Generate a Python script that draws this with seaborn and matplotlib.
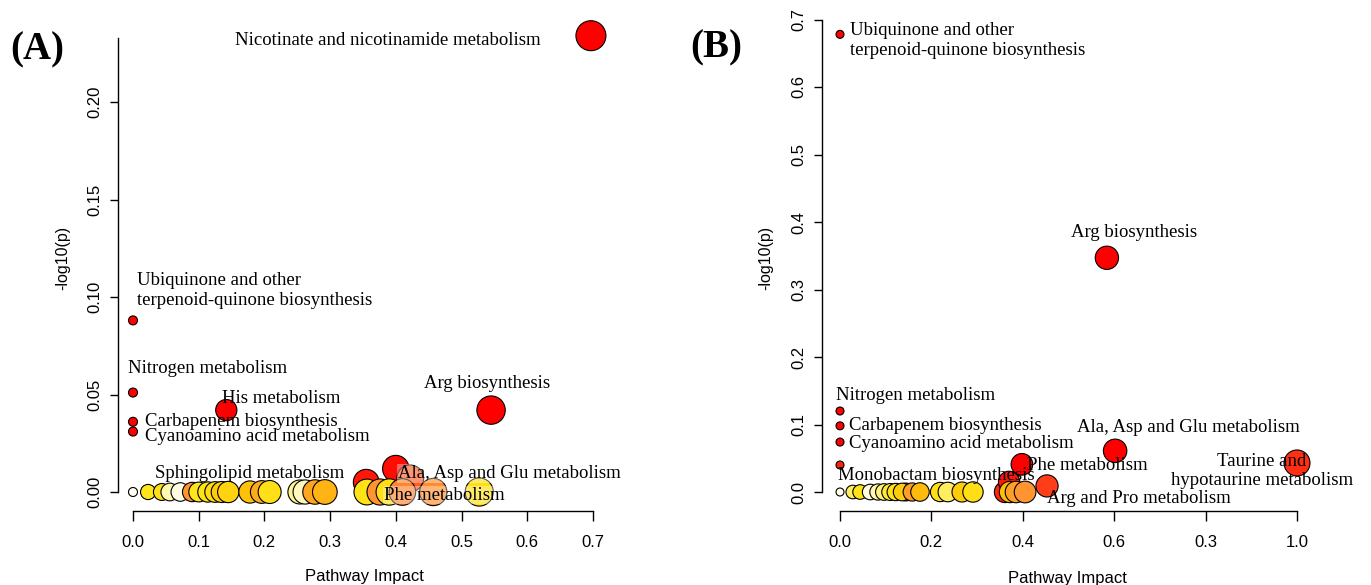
import matplotlib
matplotlib.use("Agg")
import matplotlib.pyplot as plt
from matplotlib.colors import LinearSegmentedColormap, PowerNorm
import pandas as pd
import seaborn as sns

# ---- DATA: panel (A) ----
a_impact = [0.355, 0.400, 0.422,
            0.000, 0.023, 0.044, 0.056, 0.072, 0.090, 0.100, 0.114, 0.125, 0.135,
            0.145, 0.178, 0.196, 0.208, 0.254, 0.262, 0.277, 0.292, 0.356, 0.376,
            0.390, 0.410, 0.457, 0.527,
            0.142, 0.545, 0.697, 0.000, 0.000, 0.000, 0.000]
a_logp = [0.005, 0.012, 0.007,
          0, 0, 0, 0, 0, 0, 0, 0, 0, 0,
          0, 0, 0, 0, 0, 0, 0, 0, 0, 0,
          0, 0, 0, 0,
          0.042, 0.042, 0.234, 0.088, 0.051, 0.036, 0.031]
a_heat = [0.95, 0.97, 0.80,
          0.00, 0.33, 0.36, 0.15, 0.04, 0.66, 0.33, 0.35, 0.38, 0.45,
          0.42, 0.50, 0.58, 0.36, 0.20, 0.12, 0.60, 0.55, 0.35, 0.66,
          0.37, 0.70, 0.68, 0.36,
          1.0, 1.0, 1.0, 1.0, 1.0, 1.0, 1.0]
a_names = ["", "", "Ala, Asp and Glu metabolism",
           "", "", "", "", "", "", "", "", "", "",
           "", "Sphingolipid metabolism", "", "", "", "", "", "", "", "",
           "Phe metabolism", "", "", "",
           "His metabolism", "Arg biosynthesis", "Nicotinate and nicotinamide metabolism",
           "Ubiquinone and other\nterpenoid-quinone biosynthesis", "Nitrogen metabolism",
           "Carbapenem biosynthesis", "Cyanoamino acid metabolism"]
a_xticks = [0.0, 0.1, 0.2, 0.3, 0.4, 0.5, 0.6, 0.7]
a_xticklabels = ["0.0", "0.1", "0.2", "0.3", "0.4", "0.5", "0.6", "0.7"]
a_yticks = [0.00, 0.05, 0.10, 0.15, 0.20]
a_yticklabels = ["0.00", "0.05", "0.10", "0.15", "0.20"]

# ---- DATA: panel (B) ----
b_impact = [0.144, 0.361, 0.370,
            0.000, 0.028, 0.044, 0.066, 0.083, 0.096, 0.110, 0.122, 0.136, 0.158,
            0.175, 0.219, 0.236, 0.267, 0.291, 0.372, 0.385, 0.405,
            0.000, 0.584, 0.000, 0.000, 0.000, 0.000, 0.398, 0.602, 1.000, 0.453]
b_logp = [0, 0, 0.015,
          0, 0, 0, 0, 0, 0, 0, 0, 0, 0,
          0, 0, 0, 0, 0, 0, 0, 0,
          0.678, 0.347, 0.120, 0.098, 0.074, 0.040, 0.041, 0.061, 0.043, 0.009]
b_heat = [0.90, 0.92, 0.95,
          0.02, 0.25, 0.35, 0.05, 0.15, 0.22, 0.30, 0.35, 0.45, 0.62,
          0.52, 0.36, 0.25, 0.45, 0.36, 0.50, 0.62, 0.66,
          1.0, 1.0, 1.0, 1.0, 1.0, 0.93, 1.0, 1.0, 0.90, 0.87]
b_names = ["", "", "",
           "", "", "", "", "", "", "", "", "", "",
           "", "", "", "", "", "", "", "",
           "Ubiquinone and other\nterpenoid-quinone biosynthesis", "Arg biosynthesis",
           "Nitrogen metabolism", "Carbapenem biosynthesis", "Cyanoamino acid metabolism",
           "Monobactam biosynthesis", "Phe metabolism", "Ala, Asp and Glu metabolism",
           "Taurine and\nhypotaurine metabolism", "Arg and Pro metabolism"]
b_xticks = [0.0, 0.2, 0.4, 0.6, 0.8, 1.0]
b_xticklabels = ["0.0", "0.2", "0.4", "0.6", "0.3", "1.0"]
b_yticks = [0.0, 0.1, 0.2, 0.3, 0.4, 0.5, 0.6, 0.7]
b_yticklabels = ["0.0", "0.1", "0.2", "0.3", "0.4", "0.5", "0.6", "0.7"]

# label placement (pixel offsets from the point, horizontal alignment)
a_offsets = {
    "Nicotinate and nicotinamide metabolism": (-50, -5, "right"),
    "Ubiquinone and other\nterpenoid-quinone biosynthesis": (4, 30, "left"),
    "Nitrogen metabolism": (-5, 24, "left"),
    "His metabolism": (-4, 12, "left"),
    "Carbapenem biosynthesis": (12, 0, "left"),
    "Cyanoamino acid metabolism": (12, -5, "left"),
    "Arg biosynthesis": (-67, 27, "left"),
    "Sphingolipid metabolism": (-95, 19, "left"),
    "Ala, Asp and Glu metabolism": (-12, 5, "left"),
    "Phe metabolism": (-5, -3, "left"),
}
b_offsets = {
    "Ubiquinone and other\nterpenoid-quinone biosynthesis": (10, -6, "left"),
    "Arg biosynthesis": (27, 25, "center"),
    "Nitrogen metabolism": (-4, 15, "left"),
    "Carbapenem biosynthesis": (9, 0, "left"),
    "Cyanoamino acid metabolism": (9, -1, "left"),
    "Monobactam biosynthesis": (-2, -10, "left"),
    "Phe metabolism": (5, -1, "left"),
    "Ala, Asp and Glu metabolism": (73, 23, "center"),
    "Taurine and\nhypotaurine metabolism": (-35, -8, "center"),
    "Arg and Pro metabolism": (0, -13, "left"),
}

sns.set_theme(style="white")
plt.rcParams["font.family"] = ["Liberation Sans", "DejaVu Sans"]
plt.rcParams["text.color"] = "black"
plt.rcParams["axes.labelcolor"] = "black"

heat_cmap = LinearSegmentedColormap.from_list(
    "heat", ["#FFFFF5", "#FFF7A8", "#FFE619", "#FFC107", "#FF9233", "#FF5020", "#FF0000"])

fig = plt.figure(figsize=(13.71, 5.85), dpi=100)
W, H = 1371, 585
SERIF = ["Liberation Serif", "DejaVu Serif"]


def panel(rect_px, xlim, ylim, impact, logp, heat, names, offsets, sizes, size_max, gamma,
          xticks, xticklabels, yticks, yticklabels, ytop, xmax, ylabel_xy, xlabel_x,
          boxed=()):
    l, t, r, b = rect_px
    ax = fig.add_axes([l / W, 1 - b / H, (r - l) / W, (b - t) / H])
    df = pd.DataFrame({"impact": impact, "logp": logp, "heat": heat})
    sns.scatterplot(data=df, x="impact", y="logp", hue="heat", size="impact",
                    palette=heat_cmap, hue_norm=(0, 1), sizes=sizes,
                    size_norm=PowerNorm(gamma=gamma, vmin=0, vmax=size_max),
                    edgecolor="black", linewidth=0.8,
                    legend=False, ax=ax, clip_on=False, zorder=3)
    ax.set_xlim(*xlim)
    ax.set_ylim(*ylim)
    sns.despine(ax=ax)
    ax.spines["left"].set_bounds(0, ytop)
    ax.spines["bottom"].set_bounds(0, xmax)
    for s in ("left", "bottom"):
        ax.spines[s].set_color("black")
        ax.spines[s].set_linewidth(1.0)
    ax.set_xticks(xticks)
    ax.set_xticklabels(xticklabels)
    ax.set_yticks(yticks)
    ax.set_yticklabels(yticklabels, rotation=90, va="center")
    ax.tick_params(axis="x", length=7, width=1, pad=10, labelsize=12, colors="black")
    ax.tick_params(axis="y", length=6, width=1, pad=5, labelsize=12, colors="black")
    ax.tick_params(left=True, bottom=True)
    ax.set_xlabel("Pathway Impact", fontsize=12)
    ax.set_ylabel("-log10(p)", fontsize=11.5)
    ax.xaxis.set_label_coords(xlabel_x, -0.12)
    ax.yaxis.set_label_coords(*ylabel_xy)
    for x, y, name in zip(impact, logp, names):
        if not name:
            continue
        dx, dy, ha = offsets[name]
        bbox = None
        if name in boxed:
            bbox = dict(boxstyle="square,pad=0.05", fc="white", ec="none", alpha=0.35)
        ax.annotate(name, xy=(x, y), xytext=(dx, dy), textcoords="offset pixels",
                    ha=ha, va="center", multialignment=ha if ha != "right" else "left",
                    fontsize=13.5, family=SERIF,
                    color="black", annotation_clip=False, zorder=4, bbox=bbox,
                    linespacing=1.2)
    return ax


# panel (A): x=0 at 133px, 657 px/unit ; y=0 at 492px, 1950 px/unit
ax_a = panel((118, 30, 610, 511),
             ((118 - 133) / 657, (610 - 133) / 657),
             ((492 - 511) / 1950, (492 - 30) / 1950),
             a_impact, a_logp, a_heat, a_names, a_offsets, (42, 467), 0.7, 0.5,
             a_xticks, a_xticklabels, a_yticks, a_yticklabels, 0.233, 0.7,
             (-0.098, 0.526), 0.5,
             boxed=("Phe metabolism", "Ala, Asp and Glu metabolism"))

# panel (B): x=0 at 840px, 457 px/unit ; y=0 at 492px, 675 px/unit
ax_b = panel((822, 15, 1330, 511),
             ((822 - 840) / 457, (1330 - 840) / 457),
             ((492 - 511) / 675, (492 - 15) / 675),
             b_impact, b_logp, b_heat, b_names, b_offsets, (33, 350), 1.0, 0.45,
             b_xticks, b_xticklabels, b_yticks, b_yticklabels, 0.7, 1.0,
             (-0.095, 0.51), 0.484)

fig.text(10 / W, 1 - 50 / H, "(A)", fontsize=28, fontweight="bold",
         family=SERIF, ha="left", va="center", color="black")
fig.text(690 / W, 1 - 48 / H, "(B)", fontsize=28, fontweight="bold",
         family=SERIF, ha="left", va="center", color="black")

fig.savefig("out.png", dpi=100, facecolor="white")
